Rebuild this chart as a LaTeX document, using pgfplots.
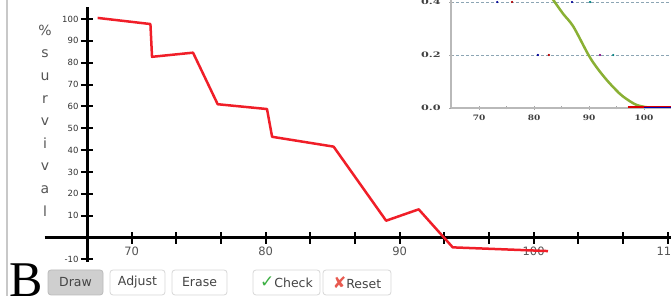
\documentclass[border=0pt]{standalone}
\usepackage{fontspec}
\setmainfont{DejaVu Sans}
\newfontfamily\seriffont{DejaVu Serif}
\newfontfamily\bigserif{Liberation Serif}
\usepackage{pgfplots}
\pgfplotsset{compat=1.18}
\definecolor{redline}{RGB}{240,30,40}
\definecolor{greenline}{RGB}{138,176,52}
\definecolor{gridc}{RGB}{140,165,180}
\definecolor{labgray}{RGB}{85,85,85}
\definecolor{btnborder}{RGB}{215,215,215}
\definecolor{btnsel}{RGB}{207,207,207}
\definecolor{btntext}{RGB}{68,68,68}
\definecolor{checkgreen}{RGB}{60,176,67}
\definecolor{resetred}{RGB}{232,90,80}
\definecolor{sidebar}{RGB}{200,200,200}
\begin{document}
\begin{tikzpicture}[x=1pt,y=1pt]
\path[use as bounding box] (0,0) rectangle (671,296);
\clip (0,0) rectangle (671,296);
\draw[line width=2pt, sidebar] (7,0) -- (7,296);

\begin{axis}[
  at={(87pt,34pt)}, anchor=south west,
  scale only axis, width=584pt, height=255pt,
  xmin=66.667, xmax=110.25, ymin=-11.2, ymax=105.5,
  axis x line=middle, axis y line=left,
  axis line style={line width=3pt, -},
  tick align=center,
  major tick length=12pt, minor tick length=12pt,
  tick style={black, line width=2pt},
  xtick={70,80,90,100,110},
  minor xtick={73.333,76.667,83.333,86.667,93.333,96.667,103.333,106.667},
  ytick={-10,10,20,30,40,50,60,70,80,90,100},
  /pgf/number format/assume math mode=true,
  xticklabel style={font=\fontsize{11.5}{13}\selectfont, color=labgray},
  yticklabel style={font=\fontsize{8.5}{10}\selectfont, color=black!80, xshift=1pt},
  ylabel={\%\\s\\u\\r\\v\\i\\v\\a\\l},
  ylabel style={rotate=-90, align=center, font=\fontsize{14}{22.6}\selectfont, color=labgray, at={(axis description cs:-0.0719,0.555)}, anchor=center},
  clip=false,
]
\draw[line width=3pt] (axis cs:63.5,0) -- (axis cs:66.667,0);
\addplot[redline, line width=2.5pt, line join=round] coordinates {
(67.46,100.5) (71.40,97.7) (71.52,82.7) (74.58,84.6) (76.42,61.0) (80.10,58.8)
(80.48,46.1) (85.07,41.6) (88.99,7.7) (91.42,12.9) (93.96,-4.5) (101.07,-6.2)
};
\end{axis}

\begin{axis}[
  at={(451pt,188pt)}, anchor=south west,
  scale only axis, width=220pt, height=108pt,
  xmin=64.9, xmax=104.9, ymin=0, ymax=0.4075,
  axis x line=bottom, axis y line=left,
  axis line style={line width=1.6pt, color=gray!55, -},
  tick style={gray!70, line width=0.8pt},
  major tick length=4pt, minor tick length=3pt,
  tick align=center,
  xtick={70,80,90,100}, minor xtick={75,85,95},
  ytick={0,0.2,0.4},
  yticklabel style={/pgf/number format/fixed, /pgf/number format/precision=1, /pgf/number format/fixed zerofill, xscale=1.5, xshift=-2pt},
  xticklabel style={xscale=1.2, yshift=-1pt},
  /pgf/number format/assume math mode=true,
  ticklabel style={font=\seriffont\bfseries\fontsize{7.5}{9}\selectfont, color=black!75},
  ymajorgrids,
  grid style={dash pattern=on 3pt off 2pt, gridc, line width=0.7pt},
]
\addplot[greenline, line width=2.5pt, smooth] coordinates {
(83.2,0.418) (83.5,0.4075) (85.3,0.355) (87.15,0.307) (89.9,0.200) (91.5,0.150) (93.2,0.106) (94.8,0.070) (96.2,0.043) (98.7,0.011) (101.7,0.0) (104.9,0.0)
};
\addplot[red!85!black, line width=1.5pt] coordinates {(97,0.003) (104.9,0.003)};
\addplot[blue!70!black, line width=1.2pt] coordinates {(100,0.002) (104.9,0.002)};
\addplot[only marks, mark=*, mark size=0.9pt, blue!60!black] coordinates {(73.3,0.4) (86.9,0.4) (80.7,0.2)};
\addplot[only marks, mark=*, mark size=0.9pt, red!70!black] coordinates {(76.0,0.4) (82.7,0.2)};
\addplot[only marks, mark=*, mark size=0.9pt, teal] coordinates {(90.2,0.4) (94.4,0.2)};
\addplot[only marks, mark=*, mark size=0.8pt, violet] coordinates {(92.0,0.2)};
\end{axis}

\node[anchor=base west, font=\bigserif\fontsize{50}{50}\selectfont, inner sep=0] at (9,-1) {B};

\tikzset{btn/.style={draw=btnborder, line width=0.8pt, rounded corners=3pt, minimum height=25pt, inner sep=0pt, text=btntext, font=\fontsize{12.5}{14}\selectfont}}
\node[btn, fill=btnsel, draw=btnsel!90!black, minimum width=55pt] at (75.5,13.5) {Draw};
\node[btn, fill=white, minimum width=55pt] at (137.5,13.5) {Adjust};
\node[btn, fill=white, minimum width=55pt] at (199.5,13.5) {Erase};
\node[btn, fill=white, minimum width=67pt] at (286.5,13.5) {\textcolor{checkgreen}{\fontsize{17}{17}\selectfont ✓}Check};
\node[btn, fill=white, minimum width=68pt] at (357,13.5) {\textcolor{resetred}{\fontsize{16}{16}\selectfont ✘}Reset};
\end{tikzpicture}
\end{document}
